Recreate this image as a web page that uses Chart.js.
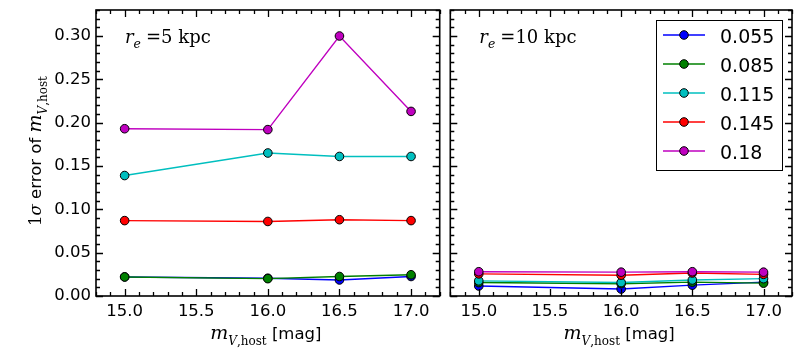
<!DOCTYPE html>
<html>
<head>
<meta charset="utf-8">
<script src="https://cdn.jsdelivr.net/npm/chart.js@4.4.0/dist/chart.umd.min.js"></script>
<style>
  body { margin: 0; background: #fff; }
  #wrap { position: relative; width: 800px; height: 350px; }
  .pane { position: absolute; top: 0; height: 350px; }
  #left { left: 0; width: 445px; }
  #right { left: 445px; width: 355px; }
</style>
</head>
<body>
<div id="wrap">
  <div class="pane" id="left"><canvas id="c1"></canvas></div>
  <div class="pane" id="right"><canvas id="c2"></canvas></div>
</div>
<script>
// x positions (host magnitude)
const mags = [15.0, 16.0, 16.5, 17.0];
const xTicks = [15.0, 15.5, 16.0, 16.5, 17.0];
const yTicks = [0.00, 0.05, 0.10, 0.15, 0.20, 0.25, 0.30];
const seriesLabels = ['0.055', '0.085', '0.115', '0.145', '0.18'];
const seriesColors = ['#0000ff', '#008000', '#00bfbf', '#ff0000', '#bf00bf'];
const panelNotes = ['5', '10'];

// r_e = 5 kpc
const re5_055 = [0.022, 0.0205, 0.0185, 0.0225];
const re5_085 = [0.022, 0.0200, 0.0225, 0.0245];
const re5_115 = [0.139, 0.165, 0.161, 0.161];
const re5_145 = [0.087, 0.086, 0.088, 0.087];
const re5_180 = [0.193, 0.192, 0.300, 0.213];

// r_e = 10 kpc
const re10_055 = [0.0115, 0.0080, 0.0125, 0.0160];
const re10_085 = [0.0155, 0.0142, 0.0160, 0.0148];
const re10_115 = [0.0175, 0.0155, 0.0185, 0.0200];
const re10_145 = [0.0255, 0.0240, 0.0265, 0.0250];
const re10_180 = [0.0280, 0.0275, 0.0280, 0.0275];

const X_MIN = 14.8, X_MAX = 17.2, Y_MIN = 0, Y_MAX = 0.33;
const SANS = '"DejaVu Sans"';
const SERIF = '"DejaVu Serif"';

function makeDatasets(rows) {
  return rows.map((vals, i) => ({
    label: seriesLabels[i],
    data: mags.map((m, j) => ({ x: m, y: vals[j] })),
    borderColor: seriesColors[i],
    backgroundColor: seriesColors[i],
    pointBackgroundColor: seriesColors[i],
    pointBorderColor: '#000',
    pointBorderWidth: 1,
    pointRadius: 4.3,
    borderWidth: 1.4,
    tension: 0,
    order: 5 - i
  }));
}

function drawRich(ctx, parts, x, y) {
  for (const p of parts) {
    ctx.font = p.font;
    ctx.fillText(p.t, x, y + (p.dy || 0));
    x += ctx.measureText(p.t).width + (p.gap || 0);
  }
}
function richWidth(ctx, parts) {
  let w = 0;
  for (const p of parts) {
    ctx.font = p.font;
    w += ctx.measureText(p.t).width + (p.gap || 0);
  }
  return w;
}

const mathM = [
  { t: 'm', font: 'italic 19px ' + SERIF },
  { t: 'V', font: 'italic 12px ' + SERIF, dy: 6 },
  { t: ',host', font: '12px ' + SERIF, dy: 6 }
];

// frame, inward ticks, titles, annotation
const decor = {
  id: 'decor',
  afterDraw(chart, args, opts) {
    const { ctx, chartArea: a, scales: { x, y } } = chart;
    ctx.save();
    ctx.strokeStyle = '#000';
    ctx.lineWidth = 1.3;
    ctx.beginPath();
    for (let k = Math.round(X_MIN * 10); k <= Math.round(X_MAX * 10); k++) {
      const v = k / 10;
      const major = xTicks.some(t => Math.abs(t - v) < 1e-6);
      const len = major ? 7 : 4;
      const px = Math.round(x.getPixelForValue(v)) + 0.5;
      ctx.moveTo(px, a.bottom); ctx.lineTo(px, a.bottom - len);
      ctx.moveTo(px, a.top); ctx.lineTo(px, a.top + len);
    }
    for (let k = Math.round(Y_MIN * 100); k <= Math.round(Y_MAX * 100); k++) {
      const v = k / 100;
      const major = yTicks.some(t => Math.abs(t - v) < 1e-6);
      const len = major ? 7 : 4;
      const py = Math.round(y.getPixelForValue(v)) + 0.5;
      ctx.moveTo(a.left, py); ctx.lineTo(a.left + len, py);
      ctx.moveTo(a.right, py); ctx.lineTo(a.right - len, py);
    }
    ctx.stroke();
    ctx.lineWidth = 1.6;
    ctx.strokeRect(a.left, a.top, a.width, a.height);

    ctx.fillStyle = '#000';
    ctx.textBaseline = 'alphabetic';
    ctx.textAlign = 'left';

    // x title
    const xt = mathM.concat([{ t: ' [mag]', font: '16.5px ' + SANS }]);
    const xw = richWidth(ctx, xt);
    drawRich(ctx, xt, (a.left + a.right) / 2 - xw / 2 - 2, 339);

    // panel note
    drawRich(ctx, [
      { t: 'r', font: 'italic 18px ' + SERIF },
      { t: 'e', font: 'italic 12.5px ' + SERIF, dy: 5, gap: 5 },
      { t: '=' + opts.note + ' kpc', font: '18px ' + SERIF }
    ], a.left + 29, 43);

    // y title (left panel only)
    if (opts.ytitle) {
      const yt = [
        { t: '1', font: '16.5px ' + SERIF },
        { t: 'σ', font: 'italic 16.5px ' + SERIF },
        { t: ' error of ', font: '16.5px ' + SANS }
      ].concat(mathM);
      const yw = richWidth(ctx, yt);
      ctx.save();
      ctx.translate(41, 151);
      ctx.rotate(-Math.PI / 2);
      drawRich(ctx, yt, -yw / 2, 0);
      ctx.restore();
    }

    // legend (right panel only)
    if (opts.legend) {
      const bw = 126, bh = 150;
      const bx = a.right - 10 - bw, by = a.top + 10;
      ctx.fillStyle = '#fff';
      ctx.fillRect(bx, by, bw, bh);
      ctx.lineWidth = 1;
      ctx.strokeStyle = '#000';
      ctx.strokeRect(bx + 0.5, by + 0.5, bw, bh);
      chart.data.datasets.forEach((ds, i) => {
        const ry = by + 15 + i * 29;
        ctx.strokeStyle = ds.borderColor;
        ctx.lineWidth = 1.4;
        ctx.beginPath();
        ctx.moveTo(bx + 7, ry); ctx.lineTo(bx + 49, ry);
        ctx.stroke();
        ctx.beginPath();
        ctx.arc(bx + 28, ry, 4.3, 0, Math.PI * 2);
        ctx.fillStyle = ds.backgroundColor;
        ctx.fill();
        ctx.strokeStyle = '#000';
        ctx.lineWidth = 1;
        ctx.stroke();
        ctx.fillStyle = '#000';
        ctx.font = '19px ' + SANS;
        ctx.textBaseline = 'alphabetic';
        ctx.fillText(ds.label, bx + 64, ry + 8);
      });
    }
    ctx.restore();
  }
};

function makeChart(id, rows, opts) {
  const ctx = document.getElementById(id).getContext('2d');
  return new Chart(ctx, {
    type: 'line',
    data: { datasets: makeDatasets(rows) },
    plugins: [decor],
    options: {
      animation: false,
      responsive: true,
      maintainAspectRatio: false,
      layout: { padding: opts.padding },
      plugins: {
        legend: { display: false },
        tooltip: { enabled: false },
        decor: { note: opts.note, ytitle: opts.ytitle, legend: opts.legend }
      },
      scales: {
        x: {
          type: 'linear',
          min: X_MIN, max: X_MAX,
          grid: { display: false, drawTicks: false, tickLength: 0 },
          border: { display: false },
          afterBuildTicks: s => { s.ticks = xTicks.map(v => ({ value: v })); },
          afterFit: s => { s.height = 54; s.paddingLeft = 0; s.paddingRight = 0; },
          ticks: {
            padding: 6,
            color: '#000',
            maxRotation: 0,
            font: { family: 'DejaVu Sans', size: 16.5 },
            callback: v => Number(v).toFixed(1)
          }
        },
        y: {
          type: 'linear',
          min: Y_MIN, max: Y_MAX,
          display: opts.ytitle ? true : false,
          grid: { display: false, drawTicks: false, tickLength: 0 },
          border: { display: false },
          afterBuildTicks: s => { s.ticks = yTicks.map(v => ({ value: v })); },
          afterFit: s => { s.width = opts.ytitle ? 96 : 0; s.paddingTop = 0; s.paddingBottom = 0; },
          ticks: {
            padding: 5,
            color: '#000',
            font: { family: 'DejaVu Sans', size: 16.5 },
            callback: v => Number(v).toFixed(2)
          }
        }
      }
    }
  });
}

makeChart('c1', [re5_055, re5_085, re5_115, re5_145, re5_180],
  { note: panelNotes[0], ytitle: true, legend: false,
    padding: { top: 10, right: 4.5, left: 0, bottom: 0 } });
makeChart('c2', [re10_055, re10_085, re10_115, re10_145, re10_180],
  { note: panelNotes[1], ytitle: false, legend: true,
    padding: { top: 10, right: 8, left: 2, bottom: 0 } });
</script>
</body>
</html>
